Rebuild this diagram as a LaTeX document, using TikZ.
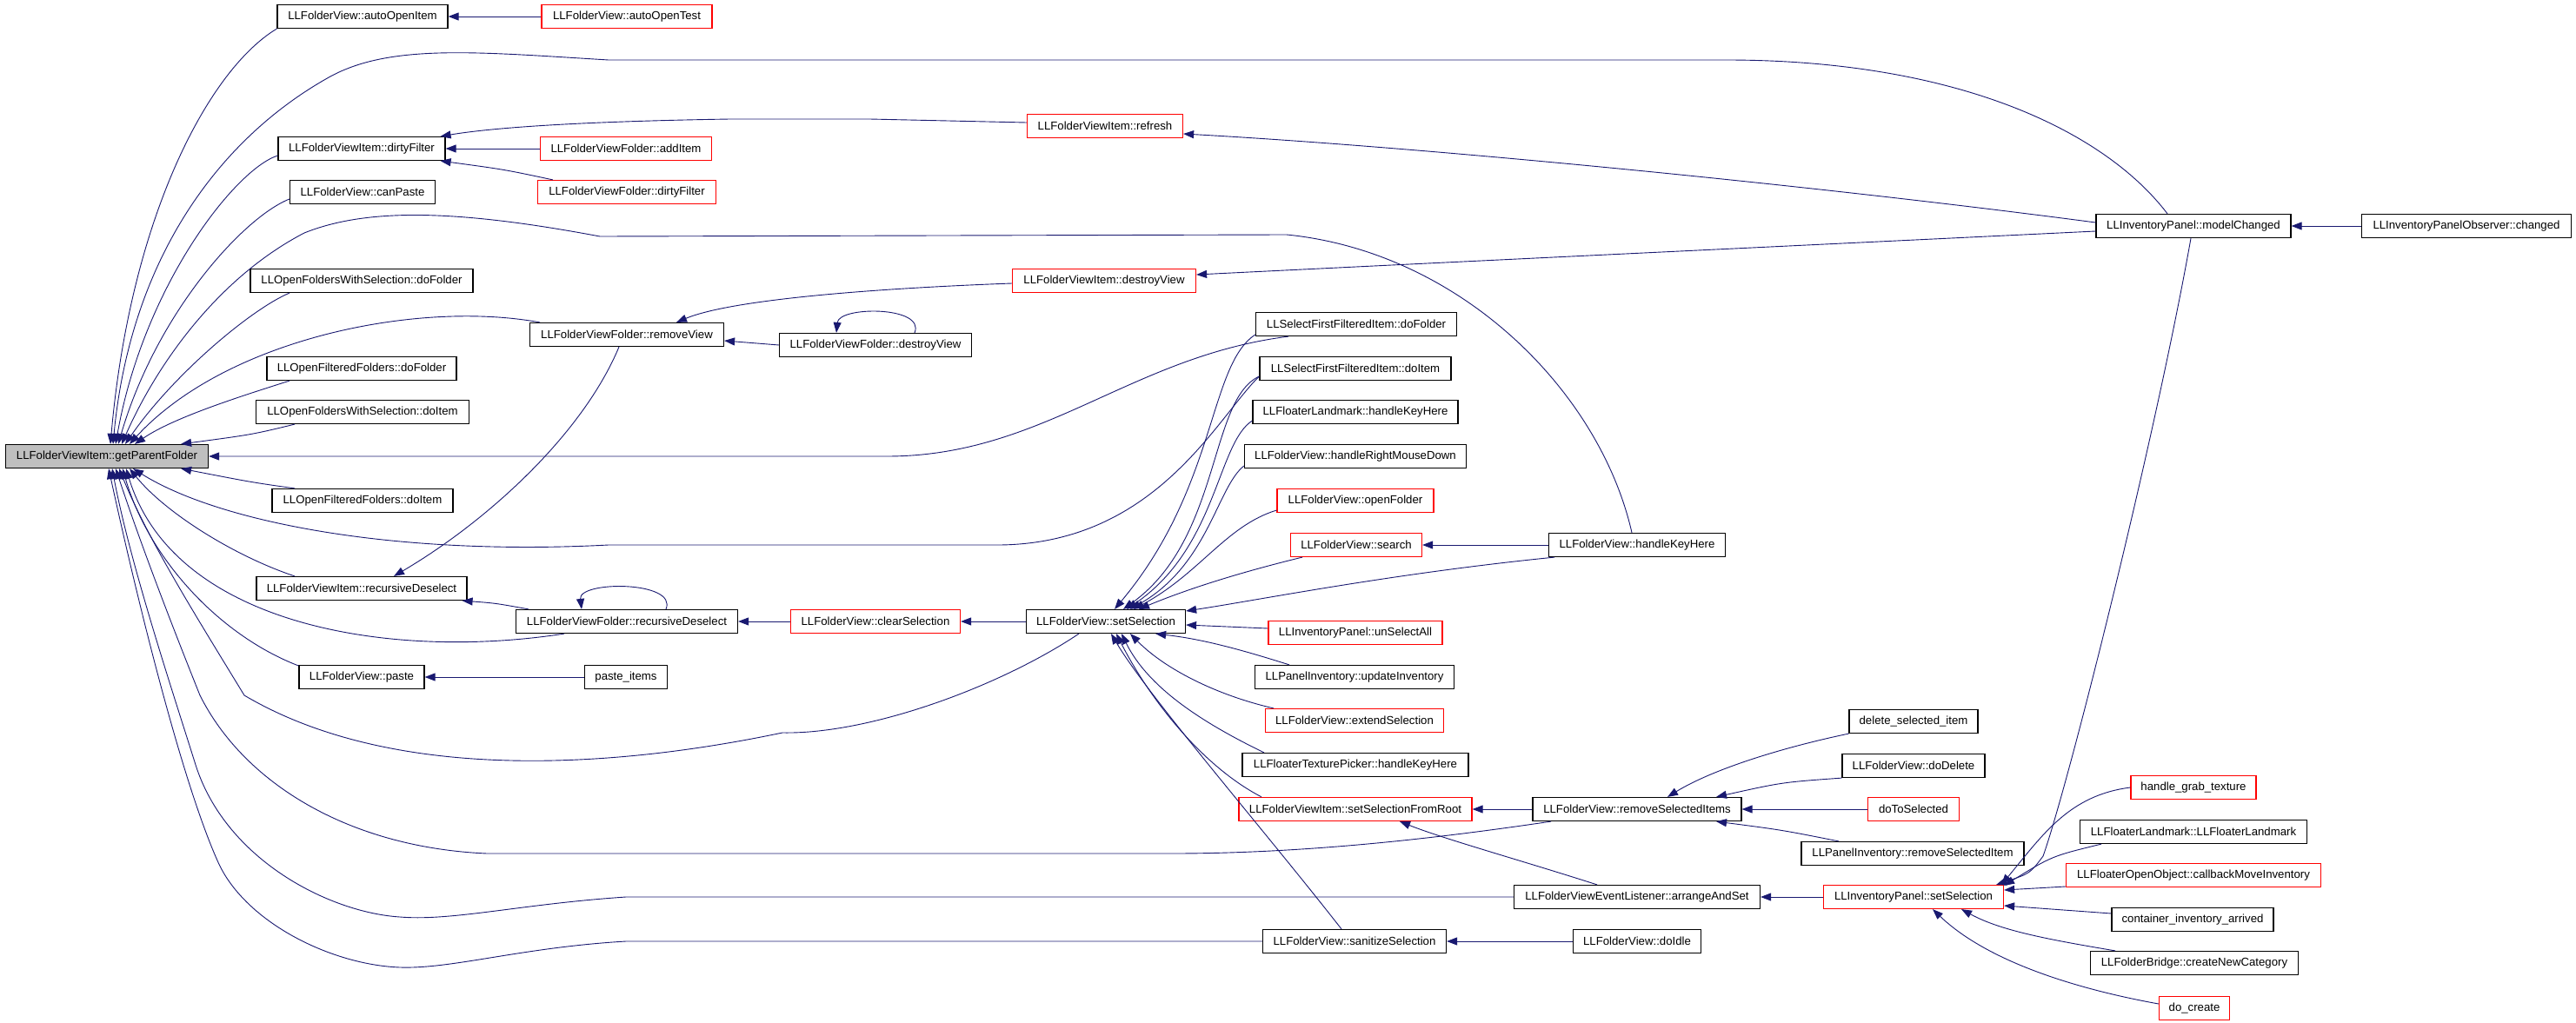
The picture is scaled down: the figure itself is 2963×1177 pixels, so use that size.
\documentclass[tikz,border=0pt]{standalone}
\usepackage{fontspec}
\newfontfamily\dox{Liberation Sans}
\usetikzlibrary{arrows.meta}
\definecolor{edgeblue}{HTML}{191970}
\definecolor{rootgray}{HTML}{BFBFBF}

\begin{document}
\begin{tikzpicture}[x=1pt,y=-1pt,
  fn/.style={draw,line width=1.2pt,minimum height=27pt,inner sep=0pt,font=\dox\fontsize{13.2}{15}\selectfont},
  fnred/.style={fn,draw=red},
  calls/.style={edgeblue,line width=0.9pt,-{Triangle[length=12pt,width=9pt]}}]
\useasboundingbox (0,0) rectangle (2963,1177);

\node[fn,fill=rootgray,minimum width=233pt] (gpf) at (123,525) {LLFolderViewItem::getParentFolder};

\node[fn,minimum width=196pt] (aoi) at (417,19) {LLFolderView::autoOpenItem};
\node[fn,minimum width=192pt] (dfi) at (416,171) {LLFolderViewItem::dirtyFilter};
\node[fn,minimum width=167pt] (cpaste) at (417,221) {LLFolderView::canPaste};
\node[fn,minimum width=256pt] (ofwsf) at (416,323) {LLOpenFoldersWithSelection::doFolder};
\node[fn,minimum width=218pt] (offf) at (416,424) {LLOpenFilteredFolders::doFolder};
\node[fn,minimum width=245pt] (ofwsi) at (417,474) {LLOpenFoldersWithSelection::doItem};
\node[fn,minimum width=208pt] (offi) at (417,576) {LLOpenFilteredFolders::doItem};
\node[fn,minimum width=242pt] (rdi) at (416,677) {LLFolderViewItem::recursiveDeselect};
\node[fn,minimum width=144pt] (paste) at (416,779) {LLFolderView::paste};

\node[fnred,minimum width=196pt] (aot) at (721,19) {LLFolderView::autoOpenTest};
\node[fnred,minimum width=197pt] (addi) at (720,171) {LLFolderViewFolder::addItem};
\node[fnred,minimum width=205pt] (dff) at (721,221) {LLFolderViewFolder::dirtyFilter};
\node[fn,minimum width=223pt] (rmv) at (721,385) {LLFolderViewFolder::removeView};
\node[fn,minimum width=255pt] (rdf) at (721,715) {LLFolderViewFolder::recursiveDeselect};
\node[fn,minimum width=95pt] (pitems) at (720,779) {paste\_items};

\node[fn,minimum width=221pt] (dvf) at (1007,397) {LLFolderViewFolder::destroyView};
\node[fnred,minimum width=195pt] (clrs) at (1007,715) {LLFolderView::clearSelection};

\node[fnred,minimum width=179pt] (refresh) at (1271,145) {LLFolderViewItem::refresh};
\node[fnred,minimum width=211pt] (dvi) at (1270,323) {LLFolderViewItem::destroyView};
\node[fn,minimum width=183pt] (setsel) at (1272,715) {LLFolderView::setSelection};

\node[fn,minimum width=231pt] (sffd) at (1560,373) {LLSelectFirstFilteredItem::doFolder};
\node[fn,minimum width=220pt] (sffi) at (1559,424) {LLSelectFirstFilteredItem::doItem};
\node[fn,minimum width=236pt] (flhk) at (1559,474) {LLFloaterLandmark::handleKeyHere};
\node[fn,minimum width=255pt] (hrmd) at (1559,525) {LLFolderView::handleRightMouseDown};
\node[fnred,minimum width=180pt] (openf) at (1559,576) {LLFolderView::openFolder};
\node[fnred,minimum width=151pt] (search) at (1560,627) {LLFolderView::search};
\node[fnred,minimum width=200pt] (unsel) at (1559,728) {LLInventoryPanel::unSelectAll};
\node[fn,minimum width=229pt] (updinv) at (1558,779) {LLPanelInventory::updateInventory};
\node[fnred,minimum width=205pt] (extsel) at (1558,829) {LLFolderView::extendSelection};
\node[fn,minimum width=260pt] (ftphk) at (1559,880) {LLFloaterTexturePicker::handleKeyHere};
\node[fnred,minimum width=268pt] (ssfr) at (1559,931) {LLFolderViewItem::setSelectionFromRoot};
\node[fn,minimum width=211pt] (sanit) at (1558,1083) {LLFolderView::sanitizeSelection};

\node[fn,minimum width=203pt] (fvhk) at (1883,627) {LLFolderView::handleKeyHere};
\node[fn,minimum width=240pt] (rsi) at (1883,931) {LLFolderView::removeSelectedItems};
\node[fn,minimum width=283pt] (aas) at (1883,1032) {LLFolderViewEventListener::arrangeAndSet};
\node[fn,minimum width=147pt] (doidle) at (1883,1083) {LLFolderView::doIdle};

\node[fn,minimum width=148pt] (dsi) at (2201,830) {delete\_selected\_item};
\node[fn,minimum width=164pt] (dodel) at (2201,881) {LLFolderView::doDelete};
\node[fnred,minimum width=105pt] (dts) at (2201,931) {doToSelected};
\node[fn,minimum width=256pt] (prsi) at (2200,982) {LLPanelInventory::removeSelectedItem};
\node[fnred,minimum width=207pt] (ipss) at (2201,1032) {LLInventoryPanel::setSelection};

\node[fn,minimum width=224pt] (mchg) at (2523,260) {LLInventoryPanel::modelChanged};
\node[fnred,minimum width=144pt] (hgt) at (2523,906) {handle\_grab\_texture};
\node[fn,minimum width=261pt] (fll) at (2523,957) {LLFloaterLandmark::LLFloaterLandmark};
\node[fnred,minimum width=293pt] (cmi) at (2523,1007) {LLFloaterOpenObject::callbackMoveInventory};
\node[fn,minimum width=186pt] (cia) at (2522,1058) {container\_inventory\_arrived};
\node[fn,minimum width=239pt] (cnc) at (2524,1108) {LLFolderBridge::createNewCategory};
\node[fnred,minimum width=81pt] (docr) at (2524,1160) {do\_create};

\node[fn,minimum width=241pt] (obs) at (2837,260) {LLInventoryPanelObserver::changed};

% callers of getParentFolder, above it
\draw[calls] (aoi.south west) .. controls (240,80) and (150,250) .. ([xshift=4pt]gpf.north);
\draw[calls] ([xshift=-30pt]mchg.north) .. controls (2420,150) and (2250,69) .. (1985,69) -- (700,69)
  .. controls (550,60) and (450,50) .. (380,88) .. controls (250,160) and (150,300) .. ([xshift=7pt]gpf.north);
\draw[calls] ([yshift=-8pt]dfi.west) .. controls (270,195) and (165,330) .. ([xshift=10pt]gpf.north);
\draw[calls] ([yshift=-8pt]cpaste.west) .. controls (280,250) and (180,360) .. ([xshift=13pt]gpf.north);
\draw[calls] ([xshift=-6pt]fvhk.north) .. controls (1840,450) and (1680,290) .. (1480,270) -- (690,272)
  .. controls (520,240) and (420,240) .. (350,268) .. controls (250,320) and (180,420) .. ([xshift=17pt]gpf.north);
\draw[calls] ([xshift=-83pt]ofwsf.south) .. controls (290,355) and (200,430) .. ([xshift=21pt]gpf.north);
\draw[calls] ([xshift=-100pt]rmv.north) .. controls (480,345) and (260,390) .. ([xshift=26pt]gpf.north);
\draw[calls] ([xshift=-83pt]offf.south) .. controls (280,455) and (200,480) .. ([xshift=32pt]gpf.north);
\draw[calls] ([xshift=-78pt]ofwsi.south) .. controls (290,500) .. ([xshift=-32pt]gpf.north east);
\draw[calls] ([xshift=-78pt]sffd.south) .. controls (1300,410) and (1200,525) .. (1020,525) -- (gpf.east);

% callers of getParentFolder, below it
\draw[calls] ([yshift=-9pt]sffi.west) .. controls (1400,480) and (1330,625) .. (1150,627) -- (700,627)
  .. controls (450,640) and (250,600) .. ([xshift=30pt]gpf.south);
\draw[calls] ([xshift=-78pt]offi.north) .. controls (290,555) .. ([xshift=-32pt]gpf.south east);
\draw[calls] ([xshift=-77pt]rdi.north) .. controls (270,640) and (190,590) .. ([xshift=26pt]gpf.south);
\draw[calls] ([xshift=-72pt]rdf.south) .. controls (450,760) and (200,720) .. ([xshift=22pt]gpf.south);
\draw[calls] ([yshift=13pt]paste.west) .. controls (250,730) and (170,640) .. ([xshift=18pt]gpf.south);
\draw[calls] ([xshift=-31pt]setsel.south) .. controls (1150,790) and (1000,845) .. (900,843)
  .. controls (700,885) and (450,900) .. (281,800) .. controls (220,700) and (170,620) .. ([xshift=14pt]gpf.south);
\draw[calls] ([xshift=-99pt]rsi.south) .. controls (1650,965) and (1500,982) .. (1348,982) -- (560,982)
  .. controls (400,975) and (280,900) .. (230,800) .. controls (190,700) and (160,620) .. ([xshift=10pt]gpf.south);
\draw[calls] (aas.west) -- (720,1032) .. controls (600,1040) and (520,1060) .. (460,1055)
  .. controls (380,1050) and (260,990) .. (225,880) .. controls (200,800) and (150,650) .. ([xshift=6pt]gpf.south);
\draw[calls] (sanit.west) -- (720,1083) .. controls (600,1090) and (520,1115) .. (460,1113)
  .. controls (380,1110) and (280,1060) .. (250,990) .. controls (210,900) and (160,700) .. ([xshift=2pt]gpf.south);

% second rank
\draw[calls] (aot) -- (aoi);
\draw[calls] (addi) -- (dfi);
\draw[calls] ([yshift=4pt]refresh.west) -- (1000,137) -- (840,137) .. controls (650,140) and (560,148) .. ([xshift=-6pt]dfi.north east);
\draw[calls] ([xshift=18pt]dff.north west) .. controls (580,195) .. ([xshift=-6pt]dfi.south east);
\draw[calls] ([yshift=4pt]mchg.west) .. controls (2100,215) and (1650,170) .. ([yshift=-9pt]refresh.east);
\draw[calls] ([yshift=-6pt]mchg.west) .. controls (2100,281) and (1700,300) .. ([yshift=7pt]dvi.east);
\draw[calls] ([xshift=-3pt]mchg.south) .. controls (2480,500) and (2380,900) .. (2350,985)
  .. controls (2335,1005) .. ([xshift=-9pt]ipss.north east);
\draw[calls] (obs) -- (mchg);
\draw[calls] ([yshift=-3pt]dvi.west) .. controls (1000,332) and (840,345) .. ([xshift=57pt]rmv.north);
\draw[calls] (dvf.west) -- ([yshift=-7pt]rmv.east);
\draw[calls] ([xshift=45pt]dvf.north) .. controls (1065,352) and (965,352) .. ([xshift=-45pt]dvf.north);
\draw[calls] ([xshift=-9pt]rmv.south) .. controls (670,500) and (560,600) .. ([xshift=37pt]rdi.north);
\draw[calls] ([xshift=-113pt]rdf.north) .. controls (570,694) .. ([xshift=-6pt]rdi.south east);
\draw[calls] ([xshift=45pt]rdf.north) .. controls (780,668) and (665,668) .. ([xshift=-52pt]rdf.north);
\draw[calls] (clrs) -- (rdf);
\draw[calls] (setsel) -- (clrs);
\draw[calls] (pitems) -- (paste);

% callers of setSelection
\draw[calls] ([yshift=-12pt]sffd.west) .. controls (1390,420) and (1400,560) .. ([xshift=10pt]setsel.north);
\draw[calls] ([yshift=-9pt]sffi.west) .. controls (1390,460) and (1405,620) .. ([xshift=20pt]setsel.north);
\draw[calls] ([yshift=-10pt]flhk.west) .. controls (1400,510) and (1400,630) .. ([xshift=24pt]setsel.north);
\draw[calls] ([yshift=-11pt]hrmd.west) .. controls (1400,560) and (1390,650) .. ([xshift=28pt]setsel.north);
\draw[calls] ([yshift=-11pt]openf.west) .. controls (1410,605) and (1380,660) .. ([xshift=32pt]setsel.north);
\draw[calls] ([xshift=-62pt]search.south) .. controls (1420,660) and (1360,680) .. ([xshift=38pt]setsel.north);
\draw[calls] ([xshift=-95pt]fvhk.south) .. controls (1600,660) and (1450,690) .. ([yshift=12pt]setsel.east);
\draw[calls] (fvhk) -- (search);
\draw[calls] ([yshift=5pt]unsel.west) -- ([yshift=-4pt]setsel.east);
\draw[calls] ([xshift=-75pt]updinv.north) .. controls (1420,745) and (1380,735) .. ([xshift=-35pt]setsel.south east);
\draw[calls] ([xshift=-93pt]extsel.north) .. controls (1400,800) and (1340,770) .. ([xshift=28pt]setsel.south);
\draw[calls] ([xshift=-105pt]ftphk.north) .. controls (1380,830) and (1320,790) .. ([xshift=18pt]setsel.south);
\draw[calls] ([xshift=-108pt]ssfr.north) .. controls (1380,880) and (1320,800) .. ([xshift=12pt]setsel.south);
\draw[calls] ([xshift=-15pt]sanit.north) .. controls (1450,950) and (1320,800) .. ([xshift=6pt]setsel.south);

% right part
\draw[calls] (rsi) -- (ssfr);
\draw[calls] ([xshift=-46pt]aas.north) .. controls (1750,990) and (1660,965) .. ([xshift=51pt]ssfr.south);
\draw[calls] (doidle) -- (sanit);
\draw[calls] (dsi.south west) .. controls (2050,860) and (1970,885) .. ([xshift=35pt]rsi.north);
\draw[calls] (dodel.south west) .. controls (2050,900) .. ([xshift=91pt]rsi.north);
\draw[calls] (dts) -- (rsi);
\draw[calls] ([xshift=-85pt]prsi.north) .. controls (2050,955) .. ([xshift=91pt]rsi.south);
\draw[calls] (ipss) -- (aas);
\draw[calls] (hgt.west) .. controls (2380,915) and (2350,960) .. ([xshift=-3pt]ipss.north east);
\draw[calls] ([xshift=-106pt]fll.south) .. controls (2360,985) .. ([yshift=-1pt]ipss.north east);
\draw[calls] ([yshift=-13pt]cmi.west) -- ([yshift=8pt]ipss.east);
\draw[calls] ([yshift=7pt]cia.west) -- ([yshift=-10pt]ipss.east);
\draw[calls] ([xshift=-91pt]cnc.north) .. controls (2350,1080) and (2300,1070) .. ([xshift=55pt]ipss.south);
\draw[calls] ([yshift=5pt]docr.west) .. controls (2400,1140) and (2290,1110) .. ([xshift=22pt]ipss.south);
\end{tikzpicture}
\end{document}
